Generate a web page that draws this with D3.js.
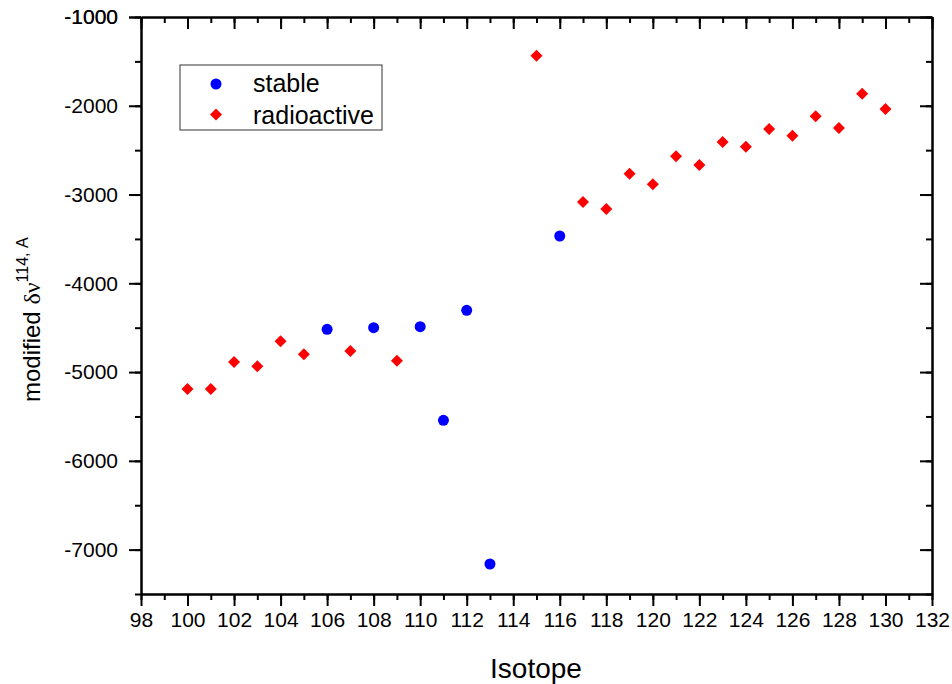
<!DOCTYPE html>
<html>
<head>
<meta charset="utf-8">
<script src="https://cdn.jsdelivr.net/npm/d3@7"></script>
<style>
  body { margin: 0; background: #fff; }
  text { font-family: "Liberation Sans", Arial, sans-serif; }
</style>
</head>
<body>
<div id="container"></div>
<script>
/* CONSTANTS AND GLOBALS */
const width = 952;
const height = 684;
const margin = {top: 17, right: 20, bottom: 90, left: 141};

/* DATA */
const stableIsotopes = [106, 108, 110, 111, 112, 113, 116];
const stableValues = [-4518, -4500, -4489, -5543, -4304, -7162, -3467];

const radioIsotopes = [100, 101, 102, 103, 104, 105, 107, 109, 115, 117, 118, 119, 120,
  121, 122, 123, 124, 125, 126, 127, 128, 129, 130];
const radioValues = [-5190, -5190, -4886, -4935, -4653, -4800, -4763, -4872, -1436, -3085, -3163,
  -2765, -2885, -2570, -2667, -2408, -2461, -2262, -2337, -2119, -2250, -1864, -2036];

const xMajorTicks = d3.range(98, 133, 2);
const xMinorTicks = d3.range(98, 133, 1);
const yMajorTicks = d3.range(-7000, -999, 1000);
const yMinorTicks = d3.range(-7500, -999, 500);

const legendLabels = ["stable", "radioactive"];

const stable = stableIsotopes.map((x, i) => ({x, y: stableValues[i]}));
const radio = radioIsotopes.map((x, i) => ({x, y: radioValues[i]}));

/* SCALES */
const xScale = d3.scaleLinear()
  .domain([98, 132])
  .range([margin.left, width - margin.right]);

const yScale = d3.scaleLinear()
  .domain([-7500, -1000])
  .range([height - margin.bottom, margin.top]);

/* SVG */
const svg = d3.select("#container")
  .append("svg")
  .attr("width", width)
  .attr("height", height);

function styleAxis(g) {
  g.selectAll(".domain").attr("stroke", "#000").attr("stroke-width", 2);
  g.selectAll(".tick line").attr("stroke", "#000").attr("stroke-width", 2);
  g.selectAll(".tick text")
    .attr("fill", "#000")
    .style("font-family", "'Liberation Sans', Arial, sans-serif")
    .style("font-size", "21px");
}

const x0 = margin.left, x1 = width - margin.right;
const y0 = height - margin.bottom, y1 = margin.top;

// bottom axis
svg.append("g")
  .attr("transform", `translate(0,${y0})`)
  .call(d3.axisBottom(xScale).tickValues(xMinorTicks).tickSize(6).tickSizeOuter(0).tickFormat(""))
  .call(styleAxis);
svg.append("g")
  .attr("transform", `translate(0,${y0})`)
  .call(d3.axisBottom(xScale).tickValues(xMajorTicks).tickSize(12).tickSizeOuter(0).tickPadding(6))
  .call(styleAxis);

// top axis (ticks inward)
svg.append("g")
  .attr("transform", `translate(0,${y1})`)
  .call(d3.axisTop(xScale).tickValues(xMinorTicks).tickSize(-6).tickSizeOuter(0).tickFormat(""))
  .call(styleAxis);
svg.append("g")
  .attr("transform", `translate(0,${y1})`)
  .call(d3.axisTop(xScale).tickValues(xMajorTicks).tickSize(-12).tickSizeOuter(0).tickFormat(""))
  .call(styleAxis);

// left axis
svg.append("g")
  .attr("transform", `translate(${x0},0)`)
  .call(d3.axisLeft(yScale).tickValues(yMinorTicks).tickSize(6).tickSizeOuter(0).tickFormat(""))
  .call(styleAxis);
svg.append("g")
  .attr("transform", `translate(${x0},0)`)
  .call(d3.axisLeft(yScale).tickValues(yMajorTicks.concat([-1000])).tickSize(12).tickSizeOuter(0)
    .tickPadding(11).tickFormat(d => String(d)))
  .call(styleAxis);

// right axis (ticks inward)
svg.append("g")
  .attr("transform", `translate(${x1},0)`)
  .call(d3.axisRight(yScale).tickValues(yMinorTicks).tickSize(-6).tickSizeOuter(0).tickFormat(""))
  .call(styleAxis);
svg.append("g")
  .attr("transform", `translate(${x1},0)`)
  .call(d3.axisRight(yScale).tickValues(yMajorTicks).tickSize(-12).tickSizeOuter(0).tickFormat(""))
  .call(styleAxis);

// points
const diamond = d3.symbol().type(d3.symbolSquare).size(72);

svg.selectAll("path.radio")
  .data(radio)
  .join("path")
  .attr("class", "radio")
  .attr("d", diamond)
  .attr("transform", d => `translate(${xScale(d.x)},${yScale(d.y)}) rotate(45)`)
  .attr("fill", "#ff0000");

svg.selectAll("circle.stable")
  .data(stable)
  .join("circle")
  .attr("class", "stable")
  .attr("cx", d => xScale(d.x))
  .attr("cy", d => yScale(d.y))
  .attr("r", 5.5)
  .attr("fill", "#0000ff");

// legend
const legend = svg.append("g").attr("transform", "translate(180,65)");
legend.append("rect")
  .attr("width", 202)
  .attr("height", 65)
  .attr("fill", "#fff")
  .attr("stroke", "#333")
  .attr("stroke-width", 1);
legend.append("circle")
  .attr("cx", 36).attr("cy", 19).attr("r", 5.5).attr("fill", "#0000ff");
legend.append("path")
  .attr("d", diamond)
  .attr("transform", "translate(36,49.5) rotate(45)")
  .attr("fill", "#ff0000");
legend.selectAll("text")
  .data(legendLabels)
  .join("text")
  .attr("x", 73)
  .attr("y", (d, i) => 27 + i * 31.5)
  .style("font-size", "25px")
  .attr("fill", "#000")
  .text(d => d);

// x-axis title
svg.append("text")
  .attr("x", 536)
  .attr("y", 678)
  .attr("text-anchor", "middle")
  .style("font-size", "28px")
  .text("Isotope");

// y-axis title
const yTitle = svg.append("text")
  .attr("transform", "translate(40,402) rotate(-90)")
  .attr("text-anchor", "start")
  .style("font-size", "24px");
yTitle.append("tspan").text("modified ");
yTitle.append("tspan").style("font-family", "'Liberation Serif', 'Times New Roman', serif").text("δν");
yTitle.append("tspan").attr("dy", -12).style("font-size", "16px").text("114, A");
</script>
</body>
</html>
